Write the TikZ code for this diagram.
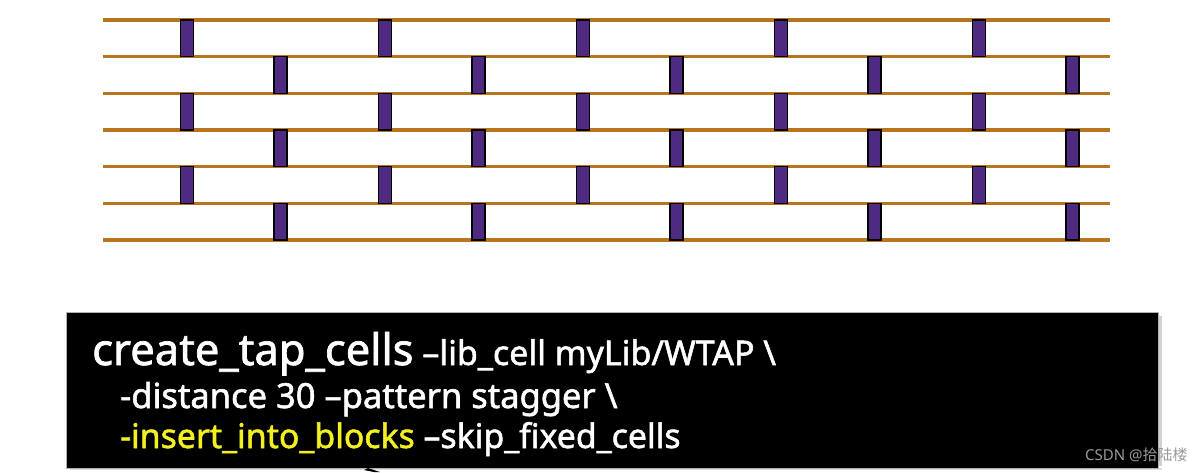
\documentclass[tikz,border=0pt]{standalone}
\usepackage{fontspec}
\setmainfont{Noto Sans}
\newfontfamily\cmdfont[FakeBold=1.6]{Noto Sans}
\newfontfamily\cjkfont{Noto Sans CJK SC}
\definecolor{railc}{HTML}{B8741F}
\definecolor{tapc}{HTML}{4E2A80}
\definecolor{hlc}{HTML}{F2F020}
\definecolor{wmc}{HTML}{9A9A9A}
\tikzset{
  rail/.style={draw=railc, line width=3.6pt},
  tap/.style={draw=black, fill=tapc, line width=1.3pt},
  cmdbox/.style={fill=black, draw=gray!60, line width=0.8pt},
  cmd/.style={text=white, inner sep=0pt, anchor=base west},
}
\begin{document}
\begin{tikzpicture}[x=1pt,y=1pt]
\useasboundingbox (0,0) rectangle (1200,472);
% rails (image y -> 472 - y)
\foreach \i in {0,...,6}{
  \pgfmathsetmacro{\yy}{472-20-36.667*\i}
  \draw[rail] (103,\yy) -- (1110,\yy);
}
% tap cells
\foreach \r in {0,...,5}{
  \pgfmathsetmacro{\ytop}{472-20-36.667*\r}
  \pgfmathsetmacro{\ybot}{\ytop-36.667}
  \pgfmathtruncatemacro{\odd}{mod(\r,2)}
  \foreach \c in {0,...,4}{
    \pgfmathsetmacro{\xc}{(\odd==0 ? 187 : 280.5) + 198*\c}
    \draw[tap] (\xc-6.5,\ybot) rectangle (\xc+6.5,\ytop);
  }
}
% command box with shadow
\fill[gray!35] (1158,6) rectangle (1162,156);
\fill[gray!25] (70,2) rectangle (1162,4.5);
\path[cmdbox] (66,4) rectangle (1158,160);
\node[cmd, font=\cmdfont\fontsize{43.5}{48}\selectfont] (l1) at (92,107) {create\_tap\_cells\fontsize{34}{38}\selectfont{} –lib\_cell myLib/WTAP \textbackslash};
\node[cmd, font=\cmdfont\fontsize{34.5}{38}\selectfont] (l2) at (120,64) {-distance 30 –pattern stagger \textbackslash};
\node[cmd, font=\cmdfont\fontsize{33.8}{38}\selectfont] (l3) at (120,24) {\textcolor{hlc}{-insert\_into\_blocks} –skip\_fixed\_cells};
% cursor tip
\fill[black] (364,2) -- (368,4) -- (380,0) -- (374,0) -- cycle;
% watermark
\node[text=wmc, inner sep=0pt, anchor=base west, font=\fontsize{15}{17}\selectfont] (wm) at (1085,12) {CSDN @{\cjkfont 拾陆楼}};
\end{tikzpicture}
\end{document}
